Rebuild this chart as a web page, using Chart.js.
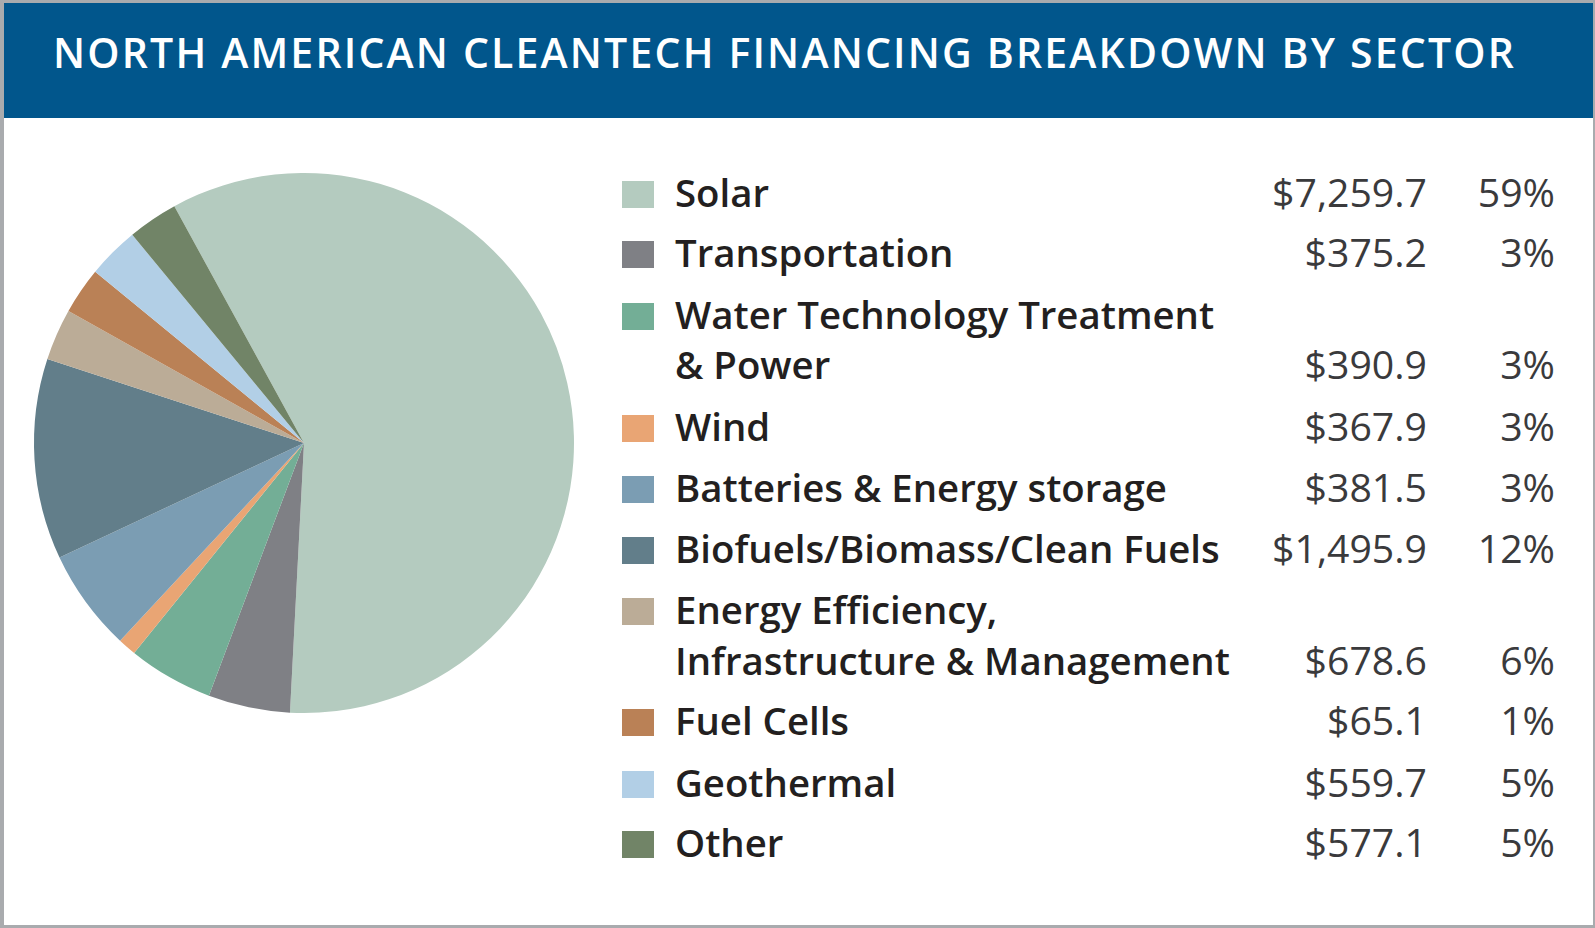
<!DOCTYPE html>
<html><head><meta charset="utf-8">
<script src="https://cdn.jsdelivr.net/npm/chart.js@4/dist/chart.umd.min.js"></script>
<style>
html,body{margin:0;padding:0;background:#fff;width:1595px;height:928px;overflow:hidden;}
.abs{position:absolute;}
#bl{left:0;top:0;width:4px;height:928px;background:#a9abae;}
#bt{left:0;top:0;width:1595px;height:3px;background:#a9abae;}
#br{left:1593px;top:0;width:2px;height:928px;background:#a9abae;}
#bb{left:0;top:925px;width:1595px;height:3px;background:#a9abae;}
#header{left:4px;top:3px;width:1589px;height:115px;background:#01568c;}
#title{white-space:nowrap;color:#fff;font-family:"Open Sans",sans-serif;font-weight:600;}
.lbl{white-space:nowrap;color:#231f20;font-family:"Open Sans",sans-serif;font-weight:600;}
.num{white-space:nowrap;color:#3a3a3c;font-family:"Open Sans",sans-serif;font-weight:400;text-align:right;}
.sw{width:32px;height:27px;}
#pie{left:24px;top:163px;}
</style></head>
<body>
<div id="bt" class="abs"></div><div id="bl" class="abs"></div><div id="br" class="abs"></div><div id="bb" class="abs"></div>
<div id="header" class="abs"></div>
<div id="title" class="abs"></div>
<canvas id="pie" class="abs" width="560" height="560"></canvas>
<div id="legend"></div>
<script>
// ---- data ----
const titleText = "NORTH AMERICAN CLEANTECH FINANCING BREAKDOWN BY SECTOR";
const categories = [
  ["Solar"],
  ["Transportation"],
  ["Water Technology Treatment", "& Power"],
  ["Wind"],
  ["Batteries & Energy storage"],
  ["Biofuels/Biomass/Clean Fuels"],
  ["Energy Efficiency,", "Infrastructure & Management"],
  ["Fuel Cells"],
  ["Geothermal"],
  ["Other"]
];
const financing = [7259.7, 375.2, 390.9, 367.9, 381.5, 1495.9, 678.6, 65.1, 559.7, 577.1];
const financingLabels = ["$7,259.7", "$375.2", "$390.9", "$367.9", "$381.5", "$1,495.9", "$678.6", "$65.1", "$559.7", "$577.1"];
const shareLabels = ["59%", "3%", "3%", "3%", "3%", "12%", "6%", "1%", "5%", "5%"];
// slice sizes as drawn in the pie (percent of circle)
const pieShares = [58.8, 4.9, 5.1, 1.1, 6.1, 12.0, 3.1, 2.8, 3.1, 3.0];
const colors = ["#b4cbbf", "#7f8085", "#73ae96", "#e9a574", "#7b9db3", "#627e8a", "#bbac97", "#ba8156", "#b2cfe6", "#718467"];

// ---- layout helpers ----
const ASC = 0.888; // baseline offset (em) for Open Sans with line-height 1
function setFont(el, fs) { el.style.fontSize = fs + "px"; el.style.lineHeight = fs + "px"; }
function place(el, left, baseline, fs) {
  setFont(el, fs);
  el.style.left = left + "px";
  el.style.top = (baseline - ASC * fs) + "px";
}
function widthAt(text, cls, fs) {
  const d = document.createElement("span");
  d.className = cls; d.style.position = "absolute"; d.style.visibility = "hidden";
  d.textContent = text; setFont(d, fs);
  document.body.appendChild(d);
  const w = d.getBoundingClientRect().width;
  d.remove();
  return w;
}

// title
const title = document.getElementById("title");
title.textContent = titleText;
const tfs = 41;
place(title, 53, 68.5, tfs);
const tw = widthAt(titleText, "", tfs) ;
title.style.letterSpacing = "0px";
const tw0 = title.getBoundingClientRect().width;
title.style.letterSpacing = ((1463 - tw0) / titleText.length) + "px";

// font sizes fitted to reference text widths
const LFS = 34 * 555 / widthAt("Infrastructure & Management", "lbl", 34);
const NFS = 34 * 155 / widthAt("$7,259.7", "num", 34);

// legend rows (baselines of each text line)
const lineBaselines = [[207], [267], [329, 379], [441], [502], [563], [624, 675], [735], [797], [857]];
const legend = document.getElementById("legend");
categories.forEach((lines, i) => {
  const sw = document.createElement("div");
  sw.className = "abs sw";
  sw.style.background = colors[i];
  sw.style.left = "622px";
  sw.style.top = (lineBaselines[i][0] - 26) + "px";
  legend.appendChild(sw);
  lines.forEach((t, j) => {
    const d = document.createElement("div");
    d.className = "abs lbl";
    d.textContent = t;
    place(d, 675, lineBaselines[i][j], LFS);
    legend.appendChild(d);
  });
  const last = lineBaselines[i][lineBaselines[i].length - 1];
  const n = document.createElement("div");
  n.className = "abs num";
  n.textContent = financingLabels[i];
  n.style.width = "300px";
  place(n, 1427 - 300, last, NFS);
  legend.appendChild(n);
  const p = document.createElement("div");
  p.className = "abs num";
  p.textContent = shareLabels[i];
  p.style.width = "150px";
  place(p, 1555 - 150, last, NFS);
  legend.appendChild(p);
});

// ---- pie ----
new Chart(document.getElementById("pie"), {
  type: "pie",
  data: {
    labels: categories,
    datasets: [{
      data: pieShares,
      backgroundColor: colors,
      borderWidth: 0
    }]
  },
  options: {
    responsive: false,
    animation: false,
    rotation: -28.7,
    layout: { padding: 10 },
    plugins: { legend: { display: false }, tooltip: { enabled: false } }
  }
});
</script>
</body></html>
